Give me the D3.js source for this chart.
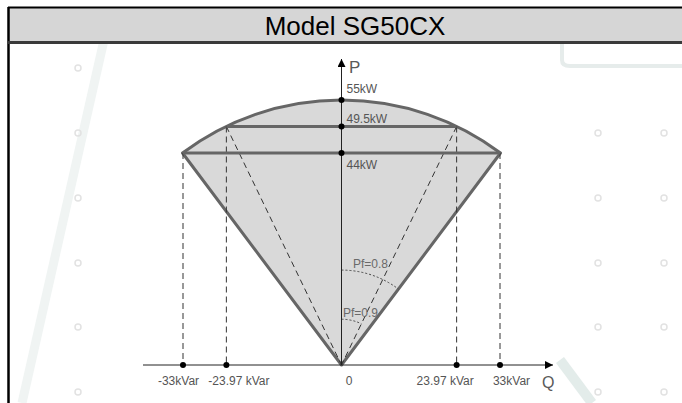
<!DOCTYPE html>
<html lang="en">
<head>
<meta charset="UTF-8">
<title>Model SG50CX</title>
<script src="https://d3js.org/d3.v7.min.js"></script>
<style>
  html, body { margin: 0; padding: 0; background: #fff; }
  svg { display: block; font-family: "Liberation Sans", Arial, sans-serif; }
</style>
</head>
<body>
<svg id="chart" width="682" height="403"></svg>
<script>
  // chart data
  const title = "Model SG50CX";
  const sMax = 55;                       // apparent power, kVA
  const pfValues = [0.8, 0.9];
  const pfLabels = ["Pf=0.8", "Pf=0.9"];
  const qTicks = [-33, -23.97, 0, 23.97, 33];
  const qLabels = ["-33kVar", "-23.97 kVar", "0", "23.97 kVar", "33kVar"];
  const pTicks = [55, 49.5, 44];
  const pLabels = ["55kW", "49.5kW", "44kW"];
  const capRows = [{ p: 49.5, q: 23.97 }, { p: 44, q: 33 }];

  const W = 682, H = 403;
  const GREY = "#666", FILL = "#d9d9d9", TXT = "#555";

  const svg = d3.select("#chart");

  // faint background watermark
  const wm = svg.append("g");
  wm.append("path").attr("d", "M104,40 L22,403").attr("stroke", "#f0f4f3").attr("stroke-width", 9).attr("fill", "none");
  wm.append("path").attr("d", "M562,44 L562,60 Q562,66 570,66 L682,66").attr("stroke", "#e6eceb").attr("stroke-width", 4).attr("fill", "none");
  wm.append("path").attr("d", "M560,360 L592,403").attr("stroke", "#e3ecea").attr("stroke-width", 10).attr("fill", "none");
  [78, 598, 664].forEach(cx => {
    [68, 133, 198, 263, 327, 392].forEach(cy => {
      if (cx > 500 && cy < 100) return;
      wm.append("circle").attr("cx", cx).attr("cy", cy).attr("r", 3)
        .attr("fill", "none").attr("stroke", "#e2e2e2").attr("stroke-width", 1.5);
    });
  });

  // frame + title bar
  svg.append("rect").attr("x", 8).attr("y", 7).attr("width", W).attr("height", 35)
    .attr("fill", "#d6d6d6");
  svg.append("line").attr("x1", 8).attr("x2", W).attr("y1", 7.5).attr("y2", 7.5)
    .attr("stroke", "#000").attr("stroke-width", 2);
  svg.append("line").attr("x1", 8.5).attr("x2", 8.5).attr("y1", 7).attr("y2", H)
    .attr("stroke", "#000").attr("stroke-width", 2.5);
  svg.append("line").attr("x1", 8).attr("x2", W).attr("y1", 42.5).attr("y2", 42.5)
    .attr("stroke", "#3a3a3a").attr("stroke-width", 3);
  svg.append("text").attr("x", 355).attr("y", 35).attr("text-anchor", "middle")
    .attr("font-size", 26).attr("fill", "#000").text(title);

  // scales (same px per unit on both axes)
  const x = d3.scaleLinear().domain([-33, 33]).range([183, 500]);
  const y = d3.scaleLinear().domain([0, sMax]).range([365, 100]);
  const cx = x(0), cy = y(0);
  const rPx = y(0) - y(sMax);

  const g = svg.append("g");

  // capability sector (cone + arc)
  const theta = Math.acos(pfValues[0]);
  g.append("path")
    .attr("transform", `translate(${cx},${cy})`)
    .attr("d", d3.arc()({ innerRadius: 0, outerRadius: rPx, startAngle: -theta, endAngle: theta }))
    .attr("fill", FILL).attr("stroke", GREY).attr("stroke-width", 3).attr("stroke-linejoin", "round");

  // vertical dashed guides
  capRows.forEach(r => {
    [-r.q, r.q].forEach(q => {
      g.append("line").attr("x1", x(q)).attr("x2", x(q)).attr("y1", y(r.p)).attr("y2", y(0))
        .attr("stroke", "#333").attr("stroke-width", 1).attr("stroke-dasharray", "6,4");
    });
  });
  // Pf=0.9 dashed rays
  const row09 = capRows[0];
  [-row09.q, row09.q].forEach(q => {
    g.append("line").attr("x1", x(q)).attr("y1", y(row09.p)).attr("x2", cx).attr("y2", cy)
      .attr("stroke", "#333").attr("stroke-width", 1).attr("stroke-dasharray", "6,4");
  });

  // horizontal power limits
  capRows.forEach(r => {
    g.append("line").attr("x1", x(-r.q)).attr("x2", x(r.q)).attr("y1", y(r.p)).attr("y2", y(r.p))
      .attr("stroke", GREY).attr("stroke-width", 3);
  });

  // Pf arcs
  const pfArcR = [19.7, 9.5];
  pfValues.forEach((pf, i) => {
    const rr = rPx * pfArcR[i] / sMax;
    const p = d3.path();
    p.arc(cx, cy, rr, -Math.PI / 2, -Math.PI / 2 + Math.acos(pf));
    g.append("path").attr("d", p.toString()).attr("fill", "none")
      .attr("stroke", "#444").attr("stroke-width", 1).attr("stroke-dasharray", "2,2");
  });
  const pfLabelPos = [[353, 268], [343, 317]];
  pfLabels.forEach((t, i) => {
    g.append("text").attr("x", pfLabelPos[i][0]).attr("y", pfLabelPos[i][1])
      .attr("font-size", 12).attr("fill", "#6a6a6a").text(t);
  });

  // arrow marker
  svg.append("defs").append("marker").attr("id", "arr")
    .attr("viewBox", "0 0 10 10").attr("refX", 10).attr("refY", 5)
    .attr("markerWidth", 10).attr("markerHeight", 8).attr("markerUnits", "userSpaceOnUse")
    .attr("orient", "auto")
    .append("path").attr("d", "M0,0 L10,5 L0,10 Z").attr("fill", "#000");

  // axes lines
  g.append("line").attr("x1", 143).attr("x2", 553).attr("y1", cy).attr("y2", cy)
    .attr("stroke", "#222").attr("stroke-width", 1).attr("marker-end", "url(#arr)");
  g.append("line").attr("x1", cx).attr("x2", cx).attr("y1", cy).attr("y2", 59)
    .attr("stroke", "#222").attr("stroke-width", 1).attr("marker-end", "url(#arr)");

  // Q axis ticks via d3 axis
  const qDx = [-5, 12, 7, -12, 11];
  const qAxis = g.append("g").attr("transform", `translate(0,${cy})`)
    .call(d3.axisBottom(x).tickValues(qTicks).tickFormat((d, i) => qLabels[i]).tickSize(0).tickPadding(11));
  qAxis.select(".domain").remove();
  qAxis.selectAll("text").attr("font-size", 12).attr("font-family", "Liberation Sans, Arial, sans-serif")
    .attr("fill", TXT).attr("dx", (d, i) => qDx[i]);
  qTicks.filter(d => d !== 0).forEach(d => {
    g.append("circle").attr("cx", x(d)).attr("cy", cy).attr("r", 3).attr("fill", "#000");
  });

  // P axis labels + dots
  const pDy = [-7, -4, 16];
  pTicks.forEach((d, i) => {
    g.append("circle").attr("cx", cx).attr("cy", y(d)).attr("r", 3).attr("fill", "#000");
    g.append("text").attr("x", cx + 5).attr("y", y(d) + pDy[i])
      .attr("font-size", 12).attr("fill", TXT).text(pLabels[i]);
  });

  // axis names
  g.append("text").attr("x", 349).attr("y", 73).attr("font-size", 17).attr("fill", "#5a5a5a").text("P");
  g.append("text").attr("x", 542).attr("y", 388).attr("font-size", 16).attr("fill", "#5a5a5a").text("Q");
</script>
</body>
</html>
